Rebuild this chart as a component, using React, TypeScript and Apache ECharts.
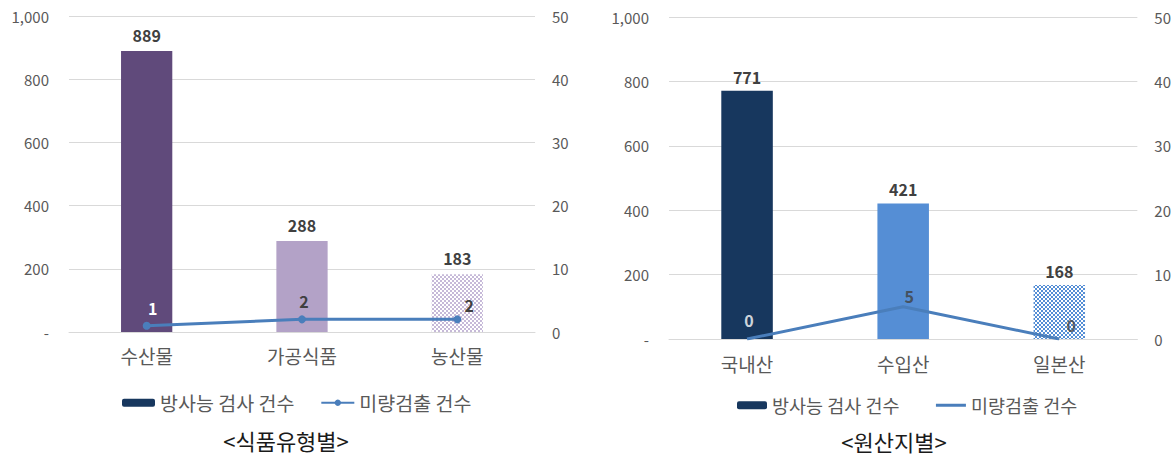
import React, { useEffect, useRef } from "react";
import * as echarts from "echarts";

// ---- Data ----
const foodCategories = ["수산물", "가공식품", "농산물"];
const foodTests = [889, 288, 183];
const foodDetected = [1, 2, 2];

const originCategories = ["국내산", "수입산", "일본산"];
const originTests = [771, 421, 168];
const originDetected = [0, 5, 0];

const seriesNames = ["방사능 검사 건수", "미량검출 건수"];
const leftTitle = "<식품유형별>";
const rightTitle = "<원산지별>";

// ---- Styles ----
const FONT = "'Noto Sans CJK KR', 'Noto Sans', sans-serif";
const GRAY = "#595959";
const LABEL = "#404040";
const LINE = "#4a7ebb";
const GRID = "#d9d9d9";

function makePattern(color: string) {
  const cv = document.createElement("canvas");
  cv.width = 4;
  cv.height = 4;
  const ctx = cv.getContext("2d")!;
  ctx.fillStyle = "#ffffff";
  ctx.fillRect(0, 0, 4, 4);
  ctx.fillStyle = color;
  ctx.fillRect(0, 0, 2, 2);
  ctx.fillRect(2, 2, 2, 2);
  return { image: cv, repeat: "repeat" } as any;
}

type Cfg = {
  categories: string[];
  tests: number[];
  detected: number[];
  barColors: any[];
  lineLabelColors: string[];
  lineLabelOffsets: number[][];
  grid: any;
  barLabelDistance: number;
  showSymbol: boolean;
  legend: any;
  title: string;
  titlePos: { x: number; y: number };
  catMargin: number;
};

function buildOption(c: Cfg): any {
  const lineLabel = {
    show: true,
    position: "top",
    distance: 8,
    fontSize: 16,
    fontWeight: "bold",
    fontFamily: FONT,
  };
  const labelData = c.detected.map((v, i) => ({
    value: v,
    label: { color: c.lineLabelColors[i], offset: c.lineLabelOffsets[i] },
  }));
  const series: any[] = [
    {
      name: seriesNames[0],
      type: "bar",
      barWidth: "33%",
      itemStyle: { color: "#17375e" },
      data: c.tests.map((v, i) => ({ value: v, itemStyle: { color: c.barColors[i] } })),
      label: {
        show: true,
        position: "top",
        distance: c.barLabelDistance,
        color: LABEL,
        fontSize: 16,
        fontWeight: "bold",
        fontFamily: FONT,
      },
    },
    {
      name: seriesNames[1],
      type: "line",
      yAxisIndex: 1,
      symbol: c.showSymbol ? "circle" : "none",
      showSymbol: c.showSymbol,
      symbolSize: 8,
      lineStyle: { color: LINE, width: 3 },
      itemStyle: { color: LINE },
      data: c.showSymbol ? labelData : c.detected,
      label: c.showSymbol ? lineLabel : { show: false },
    },
  ];
  if (!c.showSymbol) {
    series.push({
      name: seriesNames[1],
      type: "scatter",
      yAxisIndex: 1,
      symbolSize: 1,
      itemStyle: { color: "rgba(0,0,0,0)" },
      data: labelData,
      label: lineLabel,
      z: 5,
    });
  }
  return {
    animation: false,
    textStyle: { fontFamily: FONT },
    title: {
      text: c.title,
      left: c.titlePos.x,
      top: c.titlePos.y,
      padding: 0,
      textAlign: "center",
      textStyle: {
        fontFamily: FONT,
        fontSize: 22,
        lineHeight: 24,
        fontWeight: "normal",
        color: "#1a1a1a",
      },
    },
    grid: c.grid,
    legend: c.legend,
    xAxis: {
      type: "category",
      data: c.categories,
      axisLine: { lineStyle: { color: GRID, width: 1 } },
      axisTick: { show: false },
      axisLabel: { color: GRAY, fontSize: 19, margin: c.catMargin, fontFamily: FONT },
    },
    yAxis: [
      {
        type: "value",
        min: 0,
        max: 1000,
        interval: 200,
        axisLine: { show: false },
        axisTick: { show: false },
        splitLine: { lineStyle: { color: GRID, width: 1 } },
        axisLabel: {
          color: GRAY,
          fontSize: 15,
          margin: 20,
          fontFamily: FONT,
          formatter: (v: number) => (v === 0 ? "-" : v.toLocaleString("en-US")),
        },
      },
      {
        type: "value",
        min: 0,
        max: 50,
        interval: 10,
        axisLine: { show: false },
        axisTick: { show: false },
        splitLine: { show: false },
        axisLabel: { color: GRAY, fontSize: 15, margin: 17, fontFamily: FONT },
      },
    ],
    series,
  };
}

function Chart({ cfg }: { cfg: () => Cfg }) {
  const ref = useRef<HTMLDivElement>(null);
  useEffect(() => {
    if (!ref.current) return;
    const chart = echarts.init(ref.current, null, { renderer: "svg" });
    chart.setOption(buildOption(cfg()));
    return () => chart.dispose();
  }, []);
  return <div ref={ref} style={{ width: 587, height: 457 }} />;
}

export default function App() {
  useEffect(() => {
    document.body.style.margin = "0";
  }, []);
  const leftCfg = (): Cfg => ({
    categories: foodCategories,
    tests: foodTests,
    detected: foodDetected,
    barColors: ["#604a7b", "#b3a2c7", makePattern("#c6b9d8")],
    lineLabelColors: ["#ffffff", LABEL, LABEL],
    lineLabelOffsets: [[6, 2], [2, 2], [12, 6]],
    grid: { left: 69, right: 52, top: 16, bottom: 125 },
    barLabelDistance: 8,
    showSymbol: true,
    legend: {
      data: seriesNames,
      left: 122,
      top: 393,
      padding: 0,
      itemWidth: 33,
      itemHeight: 8,
      itemGap: 26,
      textStyle: { color: GRAY, fontSize: 19.5, fontFamily: FONT },
    },
    title: leftTitle,
    titlePos: { x: 286, y: 428 },
    catMargin: 14,
  });
  const rightCfg = (): Cfg => ({
    categories: originCategories,
    tests: originTests,
    detected: originDetected,
    barColors: ["#17375e", "#558ed5", makePattern("#558ed5")],
    lineLabelColors: ["#ffffff", LABEL, LABEL],
    lineLabelOffsets: [[2, -3], [6, 6], [12, 2]],
    grid: { left: 82, right: 32, top: 17, bottom: 118 },
    barLabelDistance: 6,
    showSymbol: false,
    legend: {
      data: [
        seriesNames[0],
        { name: seriesNames[1], itemStyle: { opacity: 0 }, lineStyle: { color: LINE, width: 3, opacity: 1 } },
      ],
      left: 150,
      top: 396,
      padding: 0,
      itemWidth: 30,
      itemHeight: 8,
      itemGap: 35,
      textStyle: { color: GRAY, fontSize: 18.5, fontFamily: FONT },
    },
    title: rightTitle,
    titlePos: { x: 307, y: 429 },
    catMargin: 15,
  });
  return (
    <div style={{ display: "flex", width: 1174, height: 457, background: "#fff" }}>
      <Chart cfg={leftCfg} />
      <Chart cfg={rightCfg} />
    </div>
  );
}
